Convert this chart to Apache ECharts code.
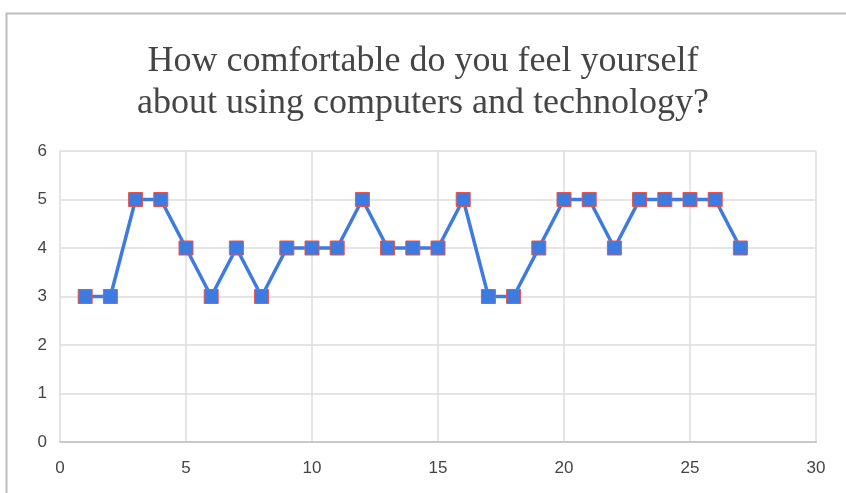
<!DOCTYPE html>
<html>
<head>
<meta charset="utf-8">
<script src="https://cdn.jsdelivr.net/npm/echarts@6/dist/echarts.min.js"></script>
<style>
html,body{margin:0;padding:0;background:#fff;}
#chart{width:846px;height:493px;}
</style>
</head>
<body>
<div id="chart"></div>
<script>
// Respondent number and their comfort rating
const respondents = [1,2,3,4,5,6,7,8,9,10,11,12,13,14,15,16,17,18,19,20,21,22,23,24,25,26,27];
const ratings = [3,3,5,5,4,3,4,3,4,4,4,5,4,4,4,5,3,3,4,5,5,4,5,5,5,5,4];
const titleLines = ['How comfortable do you feel yourself', 'about using computers and technology?'];

const chart = echarts.init(document.getElementById('chart'));
chart.setOption({
  animation: false,
  backgroundColor: '#fff',
  graphic: [{
    type: 'polyline',
    shape: { points: [[6.5, 493], [6.5, 13.5], [846, 13.5]] },
    style: { stroke: '#bdbdbd', lineWidth: 2, fill: null }
  }],
  title: {
    text: titleLines.join('\n'),
    left: 'center',
    top: 36,
    textStyle: {
      fontFamily: 'Liberation Serif',
      fontWeight: 'normal',
      fontSize: 36,
      color: '#454545',
      lineHeight: 42
    }
  },
  grid: { left: 60, right: 30, top: 151, bottom: 51 },
  xAxis: {
    type: 'value',
    min: 0, max: 30, interval: 5,
    axisLine: { show: true, lineStyle: { color: '#c8c8c8', width: 2 } },
    axisTick: { show: false },
    splitLine: { show: true, lineStyle: { color: '#dcdcdc', width: 1.5 } },
    axisLabel: { color: '#444', fontSize: 17, fontFamily: 'Liberation Sans', margin: 18 }
  },
  yAxis: {
    type: 'value',
    min: 0, max: 6, interval: 1,
    axisLine: { show: false },
    axisTick: { show: false },
    splitLine: { show: true, lineStyle: { color: '#dcdcdc', width: 1.5 } },
    axisLabel: { color: '#444', fontSize: 17, fontFamily: 'Liberation Sans', margin: 13 }
  },
  series: [{
    type: 'line',
    data: respondents.map((x, i) => [x, ratings[i]]),
    symbol: 'rect',
    symbolSize: 14,
    lineStyle: { color: '#3d7be0', width: 3.5 },
    itemStyle: { color: '#3d7be0', borderColor: '#e8534a', borderWidth: 1 }
  }]
});
</script>
</body>
</html>
